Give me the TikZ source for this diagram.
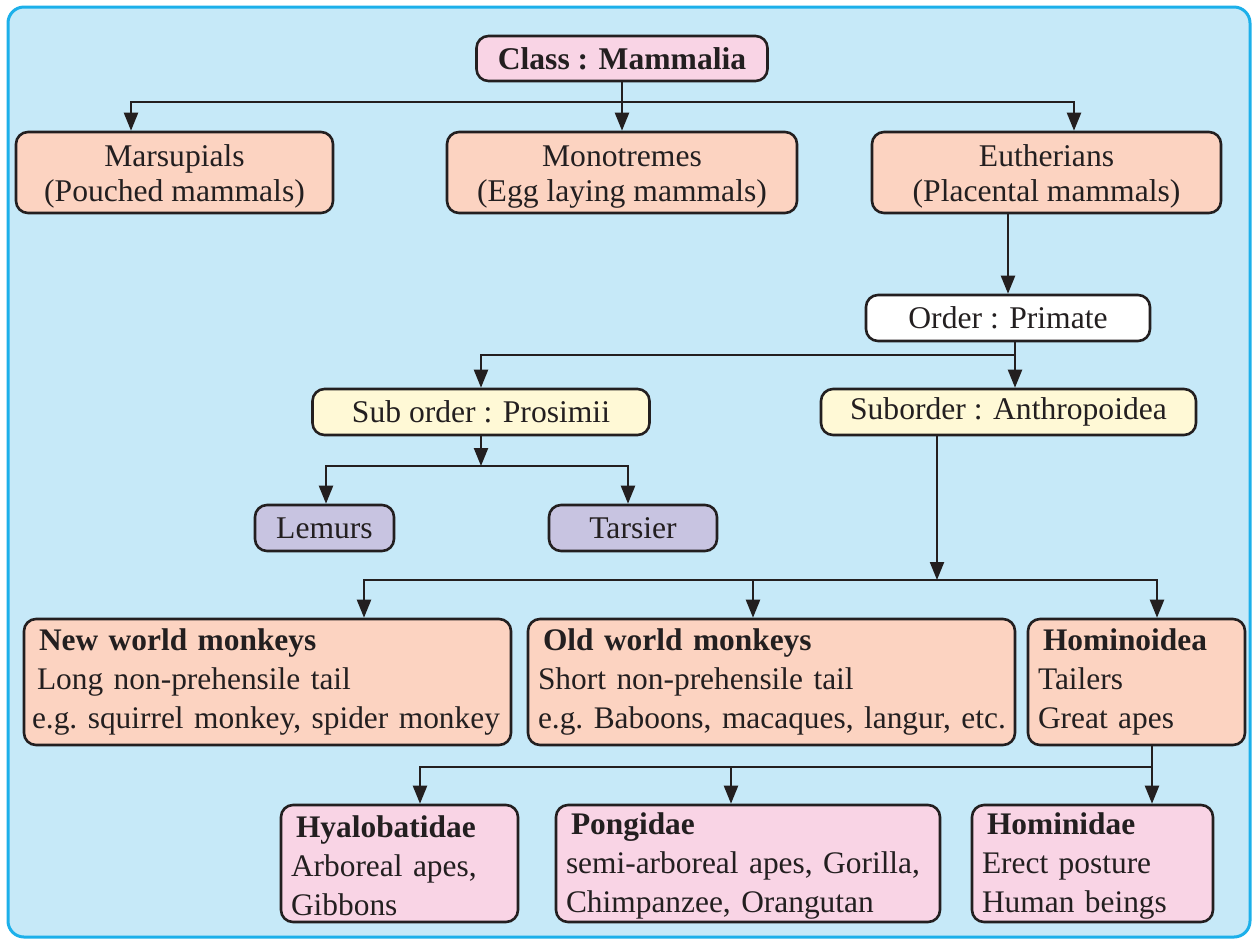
\documentclass[tikz,border=0pt]{standalone}
\usepackage{fontspec}
\setmainfont{Liberation Serif}
\usetikzlibrary{arrows.meta}
\definecolor{skyfill}{HTML}{C6E9F8}
\definecolor{skyline}{HTML}{1CB0EA}
\definecolor{ink}{HTML}{231F20}
\definecolor{salmon}{HTML}{FCD3C1}
\definecolor{pinkbox}{HTML}{F9D4E5}
\definecolor{creambox}{HTML}{FFF9D6}
\definecolor{lilacbox}{HTML}{C8C4E1}
\newcommand{\lift}[1]{\rule{0pt}{#1}}
\newcommand{\lpad}{\hspace*{4pt}}
\newcommand{\hpad}{\hspace*{6.5pt}}
\tikzset{
  box/.style={draw=ink, line width=1.3pt, rounded corners=6pt, text=ink, inner sep=0pt},
  midbox/.style={box, align=center, minimum height=#1, font={\fontsize{15.8pt}{17.5pt}\selectfont}},
  listbox/.style={box, align=left, inner xsep=1pt, minimum height=#1, font={\fontsize{15.7pt}{19.5pt}\selectfont\frenchspacing}},
  link/.style={draw=ink, line width=1.1pt},
  arr/.style={link, -{Triangle[length=9pt,width=7pt]}},
  both/.style={link, {Triangle[length=9pt,width=7pt]}-{Triangle[length=9pt,width=7pt]}},
}
\begin{document}
\begin{tikzpicture}[x=0.5pt,y=-0.5pt]
\useasboundingbox (0,0) rectangle (1253,939);
\draw[draw=skyline, fill=skyfill, line width=1.5pt, rounded corners=8pt] (8,7) rectangle (1250,937); %frame

% class and its three groups
\node[midbox=22.5pt, fill=pinkbox, minimum width=145.5pt, font={\fontsize{15.8pt}{17.5pt}\selectfont\bfseries}] (class) at (622,58.5) {Class : Mammalia};
\node[midbox=40.5pt, fill=salmon, minimum width=158.5pt] (mars) at (174.5,172.5) {\lift{14.5pt}Marsupials\\(Pouched mammals)};
\node[midbox=40.5pt, fill=salmon, minimum width=175pt] (mono) at (622,172.5) {\lift{14.5pt}Monotremes\\(Egg laying mammals)};
\node[midbox=40.5pt, fill=salmon, minimum width=174.5pt] (euth) at (1046.5,172.5) {\lift{14.5pt}Eutherians\\(Placental mammals)};
\draw[arr] (class.south) -- (mono.north);
\draw[both] (mars.north -| 131,0) |- (class.south |- 0,102) -| (euth.north -| 1074,0);

% primates
\node[midbox=23pt, fill=white, minimum width=142pt] (order) at (1008,318) {Order : Primate};
\node[midbox=23pt, fill=creambox, minimum width=168.5pt] (pros) at (481,412) {Sub order : Prosimii};
\node[midbox=23pt, fill=creambox, minimum width=187.5pt] (anth) at (1008.5,412) {Suborder : Anthropoidea};
\coordinate (orderjoin) at (1015,355);
\draw[arr] (euth.south -| order.north) -- (order.north);
\draw[arr] (order.south -| orderjoin) -- (anth.north -| orderjoin);
\draw[arr] (orderjoin) -| (pros.north);

\node[midbox=23pt, fill=lilacbox, minimum width=69.5pt] (lem) at (324.5,528) {Lemurs};
\node[midbox=23pt, fill=lilacbox, minimum width=84pt] (tars) at (633,528) {Tarsier};
\draw[arr] (pros.south) -- (pros.south |- 0,466);
\draw[both] (lem.north -| 326,0) |- (pros.south |- 0,466) -| (tars.north -| 628,0);

% anthropoidea
\node[listbox=63pt, fill=salmon, text width=241.5pt] (nwm) at (267.5,682) {\hpad\textbf{New world monkeys}\\\hspace*{5.5pt}Long non-prehensile tail\\\hspace*{3pt}e.g. squirrel monkey, spider monkey};
\node[listbox=63pt, fill=salmon, text width=241.5pt] (owm) at (771.5,682) {\hpad\textbf{Old world monkeys}\\\lpad Short non-prehensile tail\\\lpad e.g. Baboons, macaques, langur, etc.};
\node[listbox=63pt, fill=salmon, text width=106.5pt] (hoid) at (1136.5,682) {\hpad\textbf{Hominoidea}\\\lpad Tailers\\\lpad Great apes};
\coordinate (anthjoin) at (937,580);
\draw[arr] (anth.south -| anthjoin) -- (anthjoin);
\draw[both] (nwm.north -| 364,0) |- (anthjoin) -| (hoid.north -| 1157,0);
\draw[arr] (anthjoin -| 753,0) -- (owm.north -| 753,0);

% hominoidea
\node[listbox=58.5pt, fill=pinkbox, text width=116.5pt] (hyl) at (399.5,863.5) {\lift{13.5pt}\hpad\textbf{Hyalobatidae}\\\lpad Arboreal apes,\\\lpad Gibbons};
\node[listbox=58.5pt, fill=pinkbox, text width=190pt] (pong) at (748,863.5) {\lift{13.5pt}\hpad\textbf{Pongidae}\\\lpad semi-arboreal apes, Gorilla,\\\lpad Chimpanzee, Orangutan};
\node[listbox=58.5pt, fill=pinkbox, text width=118.5pt] (homi) at (1092.5,863.5) {\lift{13.5pt}\hpad\textbf{Hominidae}\\\lpad Erect posture\\\lpad Human beings};
\coordinate (hoidjoin) at (1152,767);
\draw[arr] (hoid.south -| hoidjoin) -- (homi.north -| hoidjoin);
\draw[arr] (hoidjoin) -| (hyl.north -| 420,0);
\draw[arr] (hoidjoin -| 731,0) -- (pong.north -| 731,0);
\end{tikzpicture}
\end{document}
